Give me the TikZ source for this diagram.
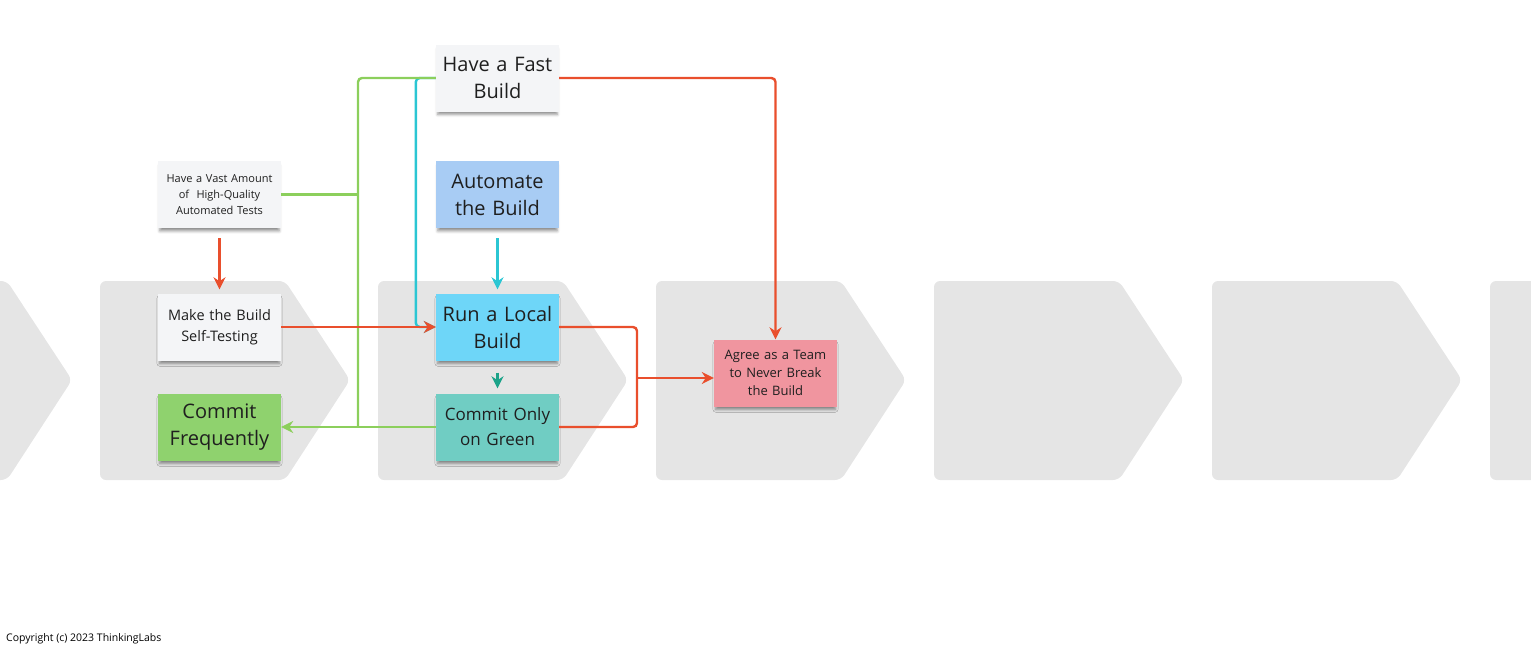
\documentclass[tikz,border=0pt]{standalone}
\usepackage{fontspec}
\setmainfont{Open Sans}
\usetikzlibrary{arrows.meta,shadows.blur}

\definecolor{lane}{HTML}{E5E5E5}
\definecolor{notewhite}{HTML}{F4F5F7}
\definecolor{noteblue}{HTML}{A8CCF4}
\definecolor{notecyan}{HTML}{6ED6F8}
\definecolor{notegreen}{HTML}{8FD26E}
\definecolor{noteteal}{HTML}{70CDC3}
\definecolor{notepink}{HTML}{F0959F}
\definecolor{lred}{HTML}{E94F2D}
\definecolor{lgreen}{HTML}{8CCF5C}
\definecolor{lcyan}{HTML}{2BC6D3}
\definecolor{lteal}{HTML}{1CA389}

\begin{document}
\begin{tikzpicture}[x=1pt,y=-1pt,>={Stealth[length=12pt,width=12pt]},
  note/.style={minimum width=123pt,minimum height=67pt,text width=120pt,
    align=center,inner sep=0pt,text=black!88,
    blur shadow={shadow xshift=0pt,shadow yshift=-4pt,shadow blur radius=3pt,
      shadow opacity=45,shadow scale=0.97}},
  big/.style={font=\fontsize{20}{27}\selectfont},
  mid/.style={font=\fontsize{17}{25}\selectfont},
  small/.style={font=\fontsize{14.5}{21}\selectfont},
  tiny/.style={font=\fontsize{13}{18}\selectfont},
  wee/.style={font=\fontsize{11}{16}\selectfont},
  link/.style={line width=2.4pt,rounded corners=4pt}]
\useasboundingbox (0,0) rectangle (1531,653);
\clip (0,0) rectangle (1531,653);
% lanes
\foreach \x in {-178,100,378,656,934,1212,1490}
  \fill[lane,rounded corners=6pt] (\x,281)--(\x+185,281)--(\x+250,380)--(\x+185,480)--(\x,480)--cycle;
% notes
\node[note,big,fill=notewhite] (fast) at (497.5,78) {Have a Fast\\Build};
\node[note,wee,fill=notewhite] (vast) at (219.5,194.5) {Have a Vast Amount\\of \ High-Quality\\Automated Tests};
\node[note,big,fill=noteblue] (auto) at (497.5,194.5) {Automate\\the Build};
\node[note,small,fill=notewhite] (selftest) at (219.5,327) {Make the Build\\Self-Testing};
\node[note,big,fill=notecyan] (local) at (497.5,327) {Run a Local\\Build};
\node[note,big,fill=notegreen] (freq) at (219.5,427) {Commit\\Frequently};
\node[note,mid,fill=noteteal] (green) at (497.5,427) {Commit Only\\on Green};
\node[note,tiny,fill=notepink] (agree) at (775.5,373) {Agree as a Team\\to Never Break\\the Build};
\coordinate (trunk) at (358,427);
\coordinate (merge) at (637,378);
% links
\draw[link,lcyan,->] (fast.west)--++(-20,0)|-(local.west);
\draw[link,lgreen] (fast.west)-|(trunk);
\draw[link,lgreen] (vast.east)--(vast.east-|trunk);
\draw[link,lgreen,->] (green.west)--(freq.east);
\draw[link,lred,->] (fast.east)-|(agree.north);
\draw[link,lred,->,shorten <=10pt,shorten >=4pt] (vast.south)--(selftest.north);
\draw[link,lred,->] (selftest.east)--(local.west);
\draw[link,lcyan,->,shorten <=10pt,shorten >=4pt] (auto.south)--(local.north);
\draw[link,lteal,->,shorten <=12pt,shorten >=5pt] (local.south)--(green.north);
\draw[link,lred] (local.east)-|(merge)|-(green.east);
\draw[link,lred,->] (merge)--(agree.west|-merge);
\node[anchor=base west,inner sep=0pt,font=\fontsize{10.5}{12}\selectfont] (copy) at (6,641) {Copyright (c) 2023 ThinkingLabs};
\end{tikzpicture}
\end{document}
